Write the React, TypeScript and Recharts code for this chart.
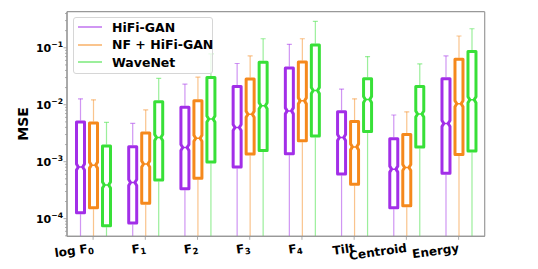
import React from 'react';
import { ComposedChart, Bar, XAxis, YAxis, CartesianGrid } from 'recharts';

const CATEGORIES = ['log F_0', 'F_1', 'F_2', 'F_3', 'F_4', 'Tilt', 'Centroid', 'Energy'];

// HiFi-GAN
const HIFI_HIGH = [0.0127, 0.0047, 0.023, 0.053, 0.115, 0.0188, 0.0066, 0.072];
const HIFI_Q3 = [0.0053, 0.00195, 0.0096, 0.0221, 0.047, 0.008, 0.0027, 0.0305];
const HIFI_MED = [0.00081, 0.00043, 0.00177, 0.004, 0.0078, 0.00265, 0.00074, 0.0047];
const HIFI_Q1 = [0.000119, 0.000079, 0.000315, 0.00076, 0.0013, 0.00057, 0.000146, 0.00059];

// NF + HiFi-GAN
const NF_HIGH = [0.0122, 0.0081, 0.0305, 0.072, 0.144, 0.0127, 0.0075, 0.161];
const NF_Q3 = [0.0051, 0.0034, 0.0125, 0.03, 0.06, 0.0054, 0.0032, 0.067];
const NF_MED = [0.00087, 0.00091, 0.00258, 0.0068, 0.0117, 0.00182, 0.00079, 0.0104];
const NF_Q1 = [0.000146, 0.000176, 0.00048, 0.00128, 0.0022, 0.00038, 0.000158, 0.00126];

// WaveNet
const WN_HIGH = [0.0049, 0.029, 0.078, 0.144, 0.29, 0.07, 0.052, 0.216];
const WN_Q3 = [0.002, 0.012, 0.032, 0.059, 0.119, 0.0305, 0.0223, 0.091];
const WN_MED = [0.00039, 0.00265, 0.0056, 0.0096, 0.0178, 0.0124, 0.0069, 0.0122];
const WN_Q1 = [0.000071, 0.00045, 0.00093, 0.00148, 0.00265, 0.0032, 0.0017, 0.00145];

const MAJOR_TICKS = [1e-4, 1e-3, 1e-2, 1e-1];
const Y_DOMAIN = [4.9e-5, 0.43];

const SERIES = [
  { key: 'hifi', name: 'HiFi-GAN', color: '#a22ee8' },
  { key: 'nf', name: 'NF + HiFi-GAN', color: '#f5891c' },
  { key: 'wn', name: 'WaveNet', color: '#38e038' },
];

const FONT = '"DejaVu Sans", sans-serif';
const FRAME = '#999999';

const data = CATEGORIES.map((name, i) => ({
  name,
  hifiHigh: HIFI_HIGH[i], hifiQ3: HIFI_Q3[i], hifiMed: HIFI_MED[i], hifiQ1: HIFI_Q1[i],
  nfHigh: NF_HIGH[i], nfQ3: NF_Q3[i], nfMed: NF_MED[i], nfQ1: NF_Q1[i],
  wnHigh: WN_HIGH[i], wnQ3: WN_Q3[i], wnMed: WN_MED[i], wnQ1: WN_Q1[i],
}));

// minor ticks of the log axis (1..9 x each decade inside the domain)
const yTicks: number[] = [];
for (let e = -5; e <= 0; e++) {
  for (let m = 1; m <= 9; m++) {
    const v = m * Math.pow(10, e);
    if (v >= Y_DOMAIN[0] && v <= Y_DOMAIN[1]) yTicks.push(v);
  }
}

const isMajor = (v: number) => MAJOR_TICKS.some(t => Math.abs(t - v) / t < 1e-6);

const YTick = (props: any) => {
  const { x, y, payload } = props;
  const v = payload.value;
  const major = isMajor(v);
  const exp = Math.round(Math.log10(v));
  return (
    <g>
      <line x1={x - (major ? 3.5 : 2)} x2={x} y1={y} y2={y} stroke={FRAME} strokeWidth={0.8} />
      {major && (
        <text x={x - 4} y={y + 4} textAnchor="end" fontFamily={FONT} fontWeight="bold" fontSize={11} fill="#000">
          10<tspan dy={-5} fontSize={7.7}>{'\u2212' + Math.abs(exp)}</tspan>
        </text>
      )}
    </g>
  );
};

const XTick = (props: any) => {
  const { x, y, payload } = props;
  const [base, sub] = String(payload.value).split('_');
  const ty = y + 15.5;
  return (
    <g>
      <line x1={x} x2={x} y1={y} y2={y + 3.5} stroke={FRAME} strokeWidth={0.8} />
      <text
        x={x + 1}
        y={ty}
        textAnchor="end"
        fontFamily={FONT}
        fontWeight="bold"
        fontSize={12}
        fill="#000"
        transform={`rotate(-8, ${x + 1}, ${ty})`}
      >
        {base}
        {sub && <tspan dy={2} fontSize={8.5}>{sub}</tspan>}
      </text>
    </g>
  );
};

const BoxShape = (props: any) => {
  const { x, y, width, height, payload, background, k, color } = props;
  const q1 = payload[k + 'Q1'];
  const q3 = payload[k + 'Q3'];
  const med = payload[k + 'Med'];
  const hi = payload[k + 'High'];
  const span = Math.log10(q3) - Math.log10(q1);
  const py = (v: number) => y + (height * (Math.log10(q3) - Math.log10(v))) / span;
  const cx = x + width / 2;
  const yMed = py(med);
  const yHi = py(hi);
  const floor = background ? background.y + background.height : y + height + 300;
  const L = x + 1.5;
  const R = x + width - 1.5;
  const T = y + 1.5;
  const B = y + height - 1.5;
  const n = 3;
  const d = 1.8;
  const path =
    `M${L},${T} H${R} V${yMed - n} L${R - d},${yMed} L${R},${yMed + n} V${B} ` +
    `H${L} V${yMed + n} L${L + d},${yMed} L${L},${yMed - n} Z`;
  return (
    <g>
      <line x1={cx} x2={cx} y1={y} y2={yHi} stroke={color} strokeOpacity={0.5} strokeWidth={1.2} />
      <line x1={cx - 2.5} x2={cx + 2.5} y1={yHi} y2={yHi} stroke={color} strokeOpacity={0.5} strokeWidth={1.2} />
      <line x1={cx} x2={cx} y1={y + height} y2={floor} stroke={color} strokeOpacity={0.5} strokeWidth={1.2} />
      <path d={path} fill="none" stroke={color} strokeWidth={3} strokeLinejoin="round" />
      <line x1={L + d} x2={R - d} y1={yMed} y2={yMed} stroke={color} strokeWidth={1.5} />
    </g>
  );
};

const LegendBox = () => (
  <div
    style={{
      position: 'absolute', left: 73, top: 17, width: 138, height: 55,
      border: '1px solid #d6d6d6', borderRadius: 3, background: 'rgba(255,255,255,0.8)',
      fontFamily: FONT, fontWeight: 'bold', fontSize: 12.5, color: '#000',
    }}
  >
    {SERIES.map((s, i) => (
      <div key={s.key} style={{ position: 'absolute', left: 4, top: 9 + i * 17.5 - 8, height: 16, display: 'flex', alignItems: 'center' }}>
        <svg width={24} height={16} style={{ display: 'block' }}>
          <line x1={0} x2={24} y1={8} y2={8} stroke={s.color} strokeOpacity={0.5} strokeWidth={2} />
        </svg>
        <span style={{ marginLeft: 10, whiteSpace: 'nowrap' }}>{s.name}</span>
      </div>
    ))}
  </div>
);

export default function App() {
  return (
    <div style={{ position: 'fixed', left: 0, top: 0, width: 538, height: 269, background: '#fff' }}>
      <ComposedChart
        width={538}
        height={269}
        data={data}
        margin={{ top: 11.7, right: 53.3, bottom: 2.7, left: 7 }}
        barSize={11}
        barGap={2}
      >
        {/* plot frame */}
        <CartesianGrid
          stroke={FRAME}
          strokeWidth={1.2}
          horizontalCoordinatesGenerator={({ offset }: any) => [offset.top, offset.top + offset.height]}
          verticalCoordinatesGenerator={({ offset }: any) => [offset.left, offset.left + offset.width]}
        />
        <XAxis
          dataKey="name"
          height={30}
          tickSize={0}
          tickMargin={0}
          tickLine={false}
          interval={0}
          axisLine={{ stroke: FRAME, strokeWidth: 1.2 }}
          tick={<XTick />}
        />
        <YAxis
          scale="log"
          type="number"
          domain={Y_DOMAIN}
          allowDataOverflow
          ticks={yTicks}
          interval={0}
          width={60}
          tickSize={0}
          tickMargin={0}
          tickLine={false}
          axisLine={{ stroke: FRAME, strokeWidth: 1.2 }}
          tick={<YTick />}
          label={(p: any) => {
            const vb = p.viewBox || { x: 7, y: 11.7, height: 224.6 };
            const lx = vb.x + 16;
            const ly = vb.y + vb.height / 2;
            return (
              <text x={lx} y={ly} textAnchor="middle" dominantBaseline="central" fontFamily={FONT} fontWeight="bold" fontSize={14} fill="#000" transform={`rotate(-90, ${lx}, ${ly})`}>
                MSE
              </text>
            );
          }}
        />
        {SERIES.map(s => (
          <Bar
            key={s.key}
            name={s.name}
            dataKey={(d: any) => [d[s.key + 'Q1'], d[s.key + 'Q3']]}
            isAnimationActive={false}
            shape={(p: any) => <BoxShape {...p} k={s.key} color={s.color} />}
          />
        ))}
      </ComposedChart>
      <LegendBox />
    </div>
  );
}
